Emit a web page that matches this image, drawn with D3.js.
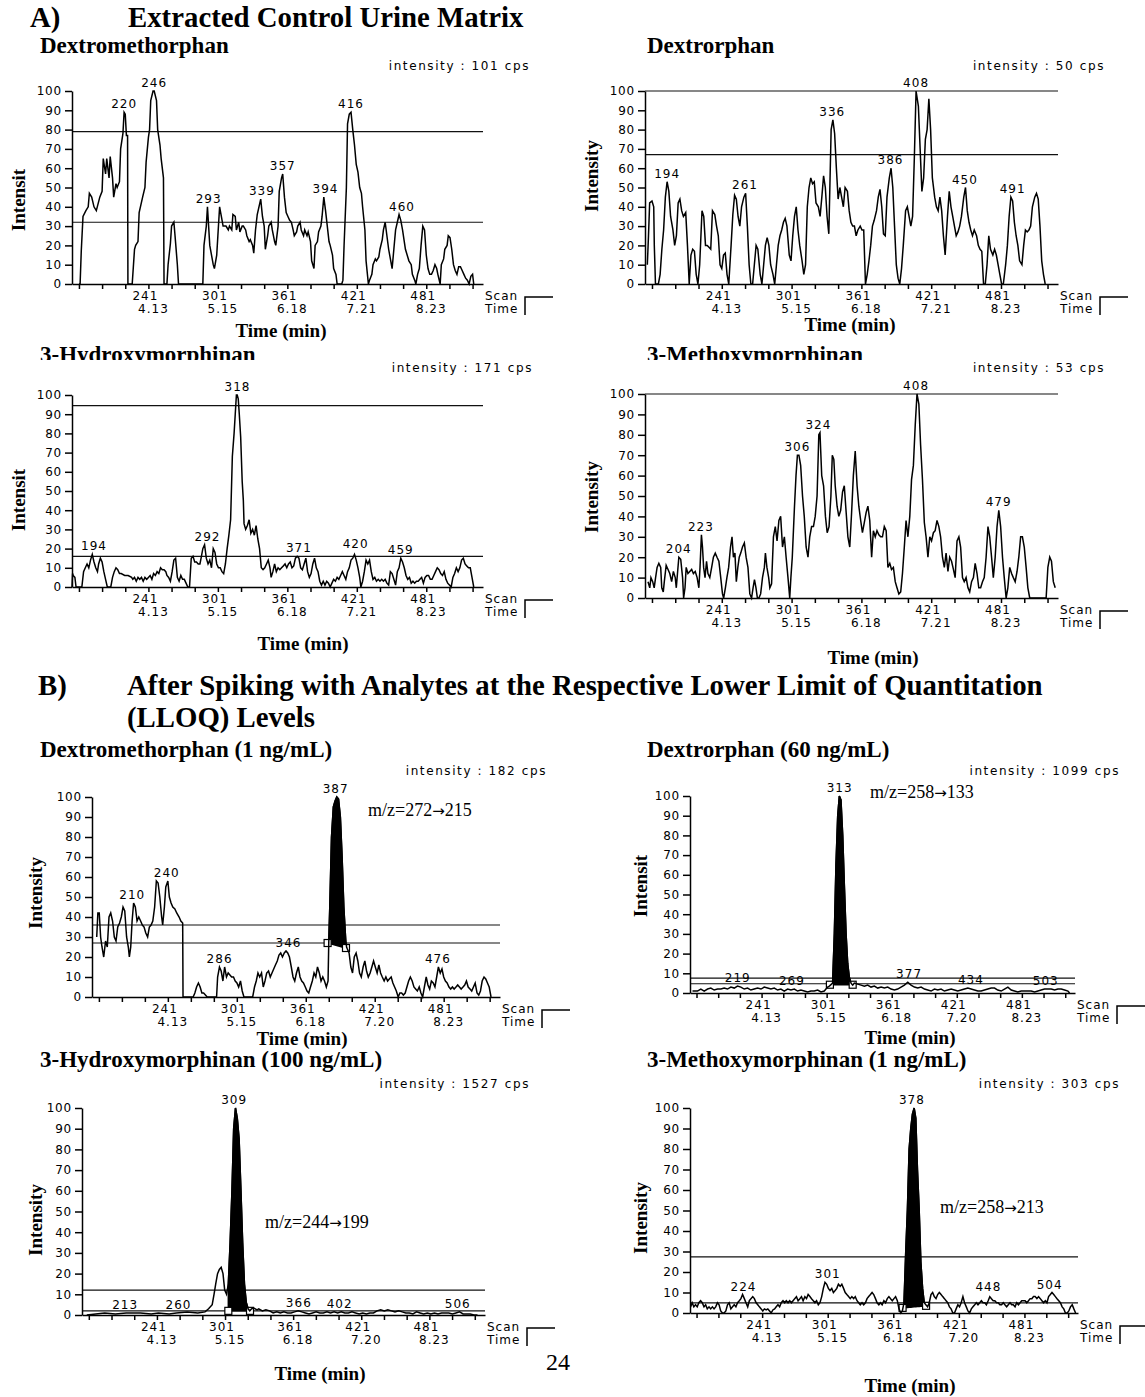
<!DOCTYPE html>
<html>
<head>
<meta charset="utf-8">
<script src="https://cdn.jsdelivr.net/npm/d3@7"></script>
<style>
  body { margin: 0; background: #fff; }
  .ser { font-family: "Liberation Serif", "Times New Roman", serif; font-weight: bold; fill: #000; }
  .reg { font-family: "Liberation Serif", "Times New Roman", serif; fill: #000; }
  .arrow { font-family: "DejaVu Sans", sans-serif; font-size: 15px; }
  .mac { font-family: "DejaVu Sans", sans-serif; font-size: 12px; letter-spacing: 1px; fill: #000; }
  .axis path, .axis line { stroke: #000; stroke-width: 1.5; }
  .axis text { font-family: "DejaVu Sans", sans-serif; font-size: 12px; letter-spacing: 0.8px; fill: #000; }
</style>
</head>
<body>
<svg id="fig" width="1145" height="1397"></svg>
<script>
// axis ticks / labels shared by every chromatogram
const scanTicks = [181, 201, 221, 241, 261, 281, 301, 321, 341, 361, 381, 401, 421, 441, 461, 481, 501, 521];
const scanLabels = [241, 301, 361, 421, 481];
const timeLabelsA = ["4.13", "5.15", "6.18", "7.21", "8.23"];
const timeLabelsB = ["4.13", "5.15", "6.18", "7.20", "8.23"];
const intensityTicks = [0, 10, 20, 30, 40, 50, 60, 70, 80, 90, 100];

// A) control urine - [scan, relative intensity %]
const dexCtl = [[181,0],[182,0],[183,17],[184.5,35],[187,38],[189,40],[190,47],[192,45],[194,40],[196,38],[199,45],[201,48],[202,65],[204,57],[205,65],[207,55],[208,66],[210,55],[211,45],[213,52],[214,50],[216,53],[217,70],[219,78],[220,89],[221,88],[222,77],[223,77],[223.3,0],[227,0],[229,18],[230,20],[232,22],[233,37],[236,45],[238,50],[239,63],[241,76],[242,80],[243,95],[245,100],[246,100],[248,95],[249,80],[251,72],[252,65],[254,55],[254.5,0],[257,0],[258,10],[260,21],[261,30],[263,32],[264,25],[266,10],[267,0],[288,0],[289,20],[291,30],[292,40],[294,20],[297,10],[298,8],[300,15],[301,25],[302.5,40],[304,35],[305.5,30],[308,30],[310,28],[311,30],[313,28],[314,36],[316,35],[317,28],[319,32],[320,27],[322,30],[323,30],[325,28],[326,25],[328,22],[329,23],[331,20],[332,16],[333.5,28],[335,36],[336.5,40],[338,44],[339.5,35],[341,30],[342,18],[344,25],[345,30],[347,32],[348,28],[350,22],[351,20],[353,30],[354,48],[356,55],[357,57],[358.5,45],[360,37],[361.5,35],[363,33],[364.5,32],[366,28],[367,25],[369,27],[370,30],[372,32],[373,28],[375,25],[376,28],[378,25],[379,27],[381,22],[382,12],[384,8],[385,20],[387,22],[388,27],[390,30],[391,35],[392.5,45],[394,38],[395.5,30],[397,22],[398,20],[400,15],[401,8],[403,5],[404,0],[408,0],[409,2],[410,20],[412,50],[413,83],[414.5,88],[416,89],[417.5,80],[419,72],[420.5,62],[422,58],[423.5,50],[425,47],[426,40],[428,28],[429,12],[431,0],[432,2],[434,5],[435,10],[437,13],[438,12],[440,14],[441,18],[443,23],[444,28],[445.5,32],[447,25],[448.5,18],[450,13],[451.5,8],[453,18],[454.5,28],[456,32],[457.5,36],[459,33],[460.5,28],[462,22],[463,18],[465,14],[466,12],[468,10],[469,5],[471,2],[472,0],[473.5,5],[475,8],[476.5,20],[478,30],[479.5,28],[481,15],[482.5,8],[484,5],[485.5,5],[487,7],[488.5,10],[490,8],[491,5],[493,0],[494,10],[496,13],[497,18],[499,20],[500,25],[501.5,24],[503,18],[504.5,10],[506,7],[507.5,5],[509,9],[510.5,9],[512,7],[513.5,5],[515,3],[516.5,2],[518,0],[519.5,4],[521,5],[522,0]];
const dexCtlPeaks = [[220,89],[246,100],[293,40],[339,44],[357,57],[394,45],[416,89],[460,36]];
const dexCtlLevels = [79, 32];

const dorCtl = [[177,10],[178,25],[179,42],[181,43],[182.5,40],[183,20],[184,0],[186.5,0],[188,5],[189.5,18],[191,28],[192.5,45],[194,53],[195.5,48],[197,35],[199,28],[200.5,20],[202,25],[203.5,42],[205,44],[206.5,38],[208,35],[210,37],[211.5,20],[213,0],[214.5,15],[216,18],[217.5,17],[219,5],[220.5,0],[222,10],[224,38],[225.5,35],[227,20],[228.5,20],[230,19],[231.5,18],[233,38],[235,36],[236.5,30],[238,25],[239.5,10],[241,8],[242.5,15],[244,16],[245.5,5],[247,0],[249,20],[250.5,36],[252,46],[253.5,44],[255,35],[256.5,30],[258,40],[260,45],[261.5,47],[263,30],[264.5,10],[266,0],[267.5,0],[269,10],[270.5,20],[272,18],[274,5],[275.5,0],[277,10],[278.5,20],[280,24],[281.5,20],[283,10],[285,5],[286.5,0],[288,10],[289.5,20],[291,25],[292.5,28],[294,32],[295.5,34],[297,30],[299,15],[300.5,12],[302,25],[303.5,35],[305,40],[306.5,28],[308,20],[310,12],[311.5,5],[313,10],[314.5,40],[316,50],[317.5,55],[319,52],[320.5,53],[322,42],[324,40],[325.5,35],[327,45],[328.5,56],[330,50],[331.5,35],[333,26],[335,80],[336.5,85],[338,78],[339.5,60],[341,44],[342.5,50],[344,45],[345.5,40],[347,50],[349,48],[350.5,38],[352,32],[353.5,30],[355,30],[356.5,25],[358,28],[360,30],[361.5,28],[363,28],[364.5,0],[366,5],[367.5,12],[369,20],[370.5,30],[372,33],[374,38],[375.5,45],[377,49],[378.5,40],[380,26],[381.5,25],[383,45],[385,55],[386.5,60],[388,50],[389.5,30],[391,10],[392.5,3],[394,0],[395.5,8],[397,20],[399,38],[400.5,40],[402,35],[403.5,30],[405,35],[406.5,65],[408,100],[410,92],[411.5,70],[413,48],[414.5,55],[416,75],[417.5,80],[419,96],[420.5,80],[422,55],[424,45],[425.5,40],[427,38],[428.5,45],[430,38],[431.5,25],[433,15],[435,35],[436.5,48],[438,40],[439.5,35],[441,30],[442.5,25],[444,27],[445.5,30],[447,35],[449,45],[450.5,50],[452,38],[453.5,32],[455,28],[456.5,25],[458,28],[460,25],[461.5,20],[463,18],[464.5,17],[466,0],[467.5,0],[469,10],[470.5,25],[472,18],[474,15],[475.5,18],[477,15],[478.5,10],[480,5],[481.5,0],[483,0],[485,10],[486.5,20],[488,35],[489.5,45],[491,43],[492.5,32],[494,25],[495.5,20],[497,12],[499,10],[500.5,20],[502,28],[503.5,27],[505,28],[506.5,30],[508,40],[510,45],[511.5,47],[513,44],[514.5,30],[516,12],[517.5,5],[519,0]];
const dorCtlPeaks = [[194,53],[261,47],[336,85],[386,60],[408,100],[450,50],[491,45]];
const dorCtlLevels = [100, 67];

const hymCtl = [[175,0],[175.5,7],[176,6],[177.5,5],[178.5,0],[180.5,0],[183.5,0],[185,8],[186.5,10],[188,12],[189.5,10],[191,14],[192.5,17],[194,13],[195.5,10],[197,8],[198,12],[199.5,15],[201,13],[202.5,8],[204,4],[205.5,0],[208.5,0],[210,5],[211.5,8],[213,10],[214.5,9],[216,7],[217.5,7],[220.5,6],[223.5,6],[226.5,5],[227.5,4],[229,5],[230.5,3],[232,5],[233.5,4],[235,5],[236.5,3],[238,5],[239.5,4],[241,5],[242.5,6],[244,4],[245.5,7],[247,6],[248.5,8],[250,7],[251.5,10],[253,9],[254.5,9],[256,8],[257,6],[258.5,5],[260,3],[261.5,8],[263,14],[264.5,15],[266,5],[267.5,3],[269,6],[270.5,4],[272,4],[273.5,2],[275,0],[276.5,0],[278,15],[279.5,16],[281,13],[282.5,13],[284,12],[285.5,12],[286.5,15],[288,20],[289.5,22],[291,15],[292.5,12],[294,14],[295.5,10],[297,20],[298.5,18],[300,12],[301.5,10],[303,10],[304.5,8],[306,7],[307.5,12],[309,20],[310.5,27],[312,35],[313.5,68],[315,80],[316,90],[317,100],[317.7,100],[318.6,98],[319.5,90],[320.7,78],[322,55],[323,45],[323.6,33],[325,30],[326.5,32],[328,35],[329.5,28],[331,30],[332.5,27],[334,32],[335.5,25],[337,20],[338.5,10],[340,9],[341.5,10],[343,12],[344.5,14],[346,10],[347,5],[348.5,8],[350,12],[351.5,8],[353,10],[354.5,9],[356,10],[357.5,11],[359,12],[360.5,10],[362,12],[363.5,13],[365,10],[366.5,11],[368,15],[369.5,16],[371,15],[372.5,10],[374,9],[375.5,12],[377,15],[378.5,8],[380,5],[381.5,7],[383,12],[384.5,15],[386,10],[387.5,8],[389,3],[390.5,1],[392,3],[393.5,1],[395,3],[396.5,2],[398,0],[399.5,2],[401,4],[402.5,3],[404,5],[405.5,4],[407,6],[408.5,8],[410,6],[411.5,4],[413,8],[414.5,10],[416,14],[417.5,15],[419,17],[420.5,14],[422,10],[423.5,5],[424.5,0],[426,3],[427.5,8],[429,14],[430.5,12],[432,14],[433.5,8],[435,4],[436.5,5],[438,3],[439.5,4],[441,3],[442.5,4],[444,3],[445.5,4],[447,2],[448.5,1],[450,8],[451.5,7],[453,4],[454.5,1],[456,8],[457.5,10],[459,15],[460.5,13],[462,10],[463.5,6],[465,4],[466.5,5],[468,2],[469.5,3],[471,2],[472.5,3],[474,3],[475.5,4],[477,5],[478.5,2],[480,5],[481.5,6],[483,6],[484.5,4],[486,4],[487.5,6],[489,8],[490.5,10],[492,9],[493.5,7],[495,6],[496.5,8],[498,4],[499.5,2],[501,1],[502.5,0],[504,5],[505.5,7],[507,10],[508.5,8],[510,10],[511.5,14],[513,15],[514.5,12],[516,11],[517.5,10],[519,10],[520.5,5],[522,0]];
const hymCtlPeaks = [[194,17],[292,22],[318,100],[371,16],[420,18],[459,15]];
const hymCtlLevels = [94.5, 16];

const memCtl = [[177.6,8],[179.1,5],[180.1,10],[181.6,8],[182.9,5],[184.1,10],[185.4,15],[186.9,17],[188.5,15],[189.4,5],[190.7,3],[191.6,8],[193.2,16],[194.8,14],[196.3,12],[197.9,8],[199.4,13],[201,10],[201.9,5],[203.2,14],[204.1,20],[205.7,19],[207.3,10],[208.2,0],[209.4,5],[210.4,15],[211.9,12],[213.5,13],[215.1,14],[216.6,12],[218.2,13],[219.8,10],[221.3,5],[222.3,15],[223.5,31],[224.4,25],[225.4,15],[226.6,10],[227.9,18],[229.1,12],[230.7,10],[232.3,15],[233.8,20],[235.4,22],[236.9,20],[238.5,18],[240.1,10],[241.6,2],[242.6,0],[244.1,5],[245.4,10],[246.9,15],[248.5,25],[249.8,30],[251,20],[252.3,22],[253.5,8],[254.8,15],[256,20],[257.3,22],[258.8,25],[260.4,27],[261.9,20],[263.5,15],[265.1,2],[266.6,0],[267.9,5],[269.1,9],[270.4,5],[271.6,0],[272.9,0],[274.4,2],[276,10],[277.6,15],[278.5,22],[279.8,15],[281.3,10],[282.3,5],[283.8,7],[285.4,30],[287,35],[288.5,28],[290.1,38],[291.6,40],[293.2,25],[294.8,30],[296.3,20],[297.9,10],[299.4,0],[300.4,10],[301.6,20],[303.5,45],[304.8,60],[306,70],[307.3,70],[308.8,65],[310.4,50],[311.9,40],[313.5,25],[315.1,20],[316.6,30],[318.2,35],[319.8,35],[321.3,40],[322.9,50],[324.4,80],[325.4,81],[326.9,60],[328.5,55],[330.1,40],[331.6,32],[333.2,35],[334.8,50],[336,70],[337.3,68],[338.5,55],[340.1,45],[341.6,40],[343.2,43],[344.8,52],[346.3,55],[347.9,42],[349.4,30],[351,25],[352.6,42],[354.1,60],[355.7,72],[357.3,55],[358.8,45],[360.4,38],[361.9,32],[363.5,37],[365.1,42],[366.6,45],[368.2,38],[369.8,20],[371.3,33],[372.9,30],[374.4,33],[376,31],[377.6,30],[379.1,30],[380.7,35],[382.3,33],[383.8,15],[385.4,17],[386.9,14],[388.5,15],[390.1,8],[391.6,5],[393.2,2],[394.8,3],[396.3,12],[397.9,25],[399.4,38],[401,30],[402.6,40],[404.1,58],[405.7,65],[407.3,85],[408.8,100],[410.4,95],[411.9,75],[413.5,58],[415.1,37],[416.6,30],[418.2,20],[419.8,30],[421.3,28],[422.9,32],[424.4,33],[426,38],[427.6,35],[429.1,30],[430.7,20],[432.3,15],[433.8,22],[435.4,13],[436.9,20],[438.5,18],[440.1,14],[441.6,10],[443.2,28],[444.8,30],[446.3,25],[447.9,10],[449.4,8],[451,10],[452.6,5],[454.1,3],[455.7,8],[457.3,10],[458.8,17],[460.4,12],[461.9,5],[463.5,5],[465.1,8],[466.6,10],[468.2,20],[469.8,35],[471.3,30],[472.9,20],[474.4,10],[476,20],[477.6,35],[479.1,43],[480.7,35],[482.3,20],[483.8,10],[485.4,0],[486.9,5],[488.5,15],[490.1,12],[491.6,10],[493.2,8],[494.8,13],[496.3,20],[497.9,30],[499.4,30],[501,25],[502.6,15],[504.1,5],[505.7,0],[507.3,0],[519.8,0],[521.3,15],[522.9,20],[524.4,18],[526,8],[527.6,5]];
const memCtlPeaks = [[204,20],[223,31],[306,70],[324,81],[408,100],[479,43]];
const memCtlLevels = [100];

// B) spiked at LLOQ
const dexLloq = [[179.1,30],[180.1,42],[181.3,42],[182.5,30],[183.7,25],[185.2,20],[186.8,28],[188.3,25],[189.8,40],[191.3,42],[192.9,38],[194.4,30],[195.9,28],[197.4,35],[199,37],[200.5,40],[202,45],[203.5,43],[205.1,30],[206.6,25],[207.5,20],[208.7,25],[209.9,38],[211.2,47],[212.7,45],[214.2,38],[215.7,40],[217.3,38],[218.8,36],[220.3,35],[221.8,32],[223.4,30],[224.9,35],[226.4,36],[227.9,38],[229.5,45],[231,58],[232.5,57],[234,50],[235.6,40],[236.5,36],[238,45],[239.2,55],[241,58],[242.3,50],[243.8,47],[245.3,45],[247.1,44],[248.7,42],[250.8,40],[252.3,38],[253.9,37],[254.2,0],[263,0],[264.5,2],[266,5],[267.6,7],[269.1,5],[270.6,2],[272.1,2],[273.7,1],[275.2,0],[283.4,0],[284.3,10],[285.9,15],[287.4,13],[288.9,8],[290.4,15],[292,10],[293.5,12],[295,11],[296.5,10],[298.1,10],[299.6,8],[301.1,7],[302.6,5],[304.2,8],[305.7,3],[307.2,0],[314.8,0],[316.4,5],[317.9,8],[319.4,12],[320.9,10],[322.5,12],[324,5],[325.5,8],[327,12],[328.6,13],[330.1,10],[331.6,12],[333.1,14],[334.6,16],[336.2,18],[337.7,21],[339.2,22],[340.7,20],[342.3,22],[343.8,23],[345.3,22],[346.8,20],[348.4,15],[349.9,10],[351.4,8],[352.9,12],[354.5,15],[356,10],[357.5,8],[359,7],[360.6,5],[362.1,3],[363.6,2],[365.1,5],[366.7,8],[368.2,12],[369.7,10],[371.2,15],[372.8,12],[374.3,8],[375.8,10],[377.3,8],[378.9,5],[380.4,8],[381,27],[381.9,45],[383.4,80],[385,95],[386.5,98],[388,100],[389.5,99],[391.1,90],[392.6,70],[394.1,45],[395.6,30],[396.5,25],[397.2,24],[398.7,22],[400.2,15],[401.7,12],[403.2,20],[404.8,22],[406.3,18],[407.8,12],[409.3,10],[410.9,15],[412.4,18],[413.9,13],[415.4,10],[417,12],[418.5,15],[420,18],[421.5,15],[423.1,12],[424.6,16],[426.1,12],[427.6,10],[429.2,8],[430.7,10],[432.2,8],[433.7,9],[435.3,10],[436.8,7],[438.3,5],[439.8,3],[441.4,0],[442.9,2],[444.4,2],[445.9,1],[447.5,2],[449,5],[450.5,8],[452,10],[453.6,8],[455.1,5],[456.6,4],[458.1,3],[459.7,5],[461.2,2],[462.7,0],[464.2,5],[465.8,10],[467.3,6],[468.8,4],[470.3,8],[471.9,7],[473.4,5],[474.9,10],[476.4,15],[478,12],[479.5,14],[481,10],[482.5,8],[484,7],[485.6,5],[487.1,4],[488.6,5],[490.1,4],[491.7,5],[493.2,6],[494.7,5],[496.2,4],[497.8,5],[499.3,6],[500.8,8],[502.3,5],[503.9,4],[505.4,3],[506.9,5],[508.4,7],[510,2],[511.5,1],[513,3],[514.5,8],[516.1,10],[517.6,9],[519.1,7],[520.6,5],[522.2,0]];
const dexLloqPeaks = [[210,47],[240,58],[286,15],[346,23],[387,100],[476,15]];
const dexLloqLevels = [36, 27];
const dexLloqBase = [[380,27],[396,24.5]];

const dorLloq = [[177.3,1],[181.9,1],[185,2],[188.1,1],[191.2,2],[194.2,2.5],[197.3,1.5],[200.4,2],[203.5,2],[206.5,2.5],[209.6,2],[212.7,3],[215.8,2.5],[218.8,3.5],[221.9,3],[225,2],[228.1,2.5],[231.1,1.5],[234.2,2],[237.3,2.5],[240.4,2],[243.5,3],[246.5,2.5],[249.6,2],[252.7,2.5],[255.8,1.5],[258.8,2],[261.9,1],[265,2],[268.1,1.5],[271.2,2],[274.2,1],[277.3,1.5],[280.4,1],[283.5,0.5],[286.5,1],[289.6,1],[292.7,1.5],[295.8,0.5],[298.8,1],[301.9,3],[303.5,3.5],[306.5,5],[308.1,30],[309.6,65],[311.2,90],[312.7,100],[314.2,98],[315.8,80],[317.3,55],[318.9,30],[320.4,15],[321.9,8],[323.5,5],[325,4],[326.5,5],[329.6,4.5],[332.7,4],[335.8,3.5],[338.8,4],[341.9,3],[345,3.5],[348.1,2.5],[351.2,3],[354.2,2.5],[357.3,3],[360.4,2],[363.5,1.5],[366.5,2],[369.6,3],[372.7,4],[375.8,5.5],[378.8,4],[381.9,3],[385,2.5],[388.1,3],[391.2,2],[394.2,1.5],[397.3,1],[400.4,2],[403.5,1.5],[406.5,2],[409.6,1],[412.7,1.5],[415.8,2],[418.8,1.5],[421.9,1],[425,1.5],[428.1,2],[431.2,2.5],[434.2,2],[437.3,1.5],[440.4,1],[443.5,1],[446.5,1.5],[449.6,2],[452.7,2.5],[455.8,2.5],[458.8,1.5],[461.9,1],[465,2],[468.1,3],[471.2,1.5],[474.2,1],[477.3,0.5],[480.4,1],[483.5,1],[486.5,1],[489.6,1],[492.7,0.5],[495.8,1],[498.8,1.5],[501.9,2],[505,2],[508.1,2],[511.2,1.5],[514.2,2],[517.3,2],[520.4,1.5],[523.5,1],[525,0]];
const dorLloqPeaks = [[219,3.5],[269,2],[313,100],[377,5.5],[434,2.5],[503,2]];
const dorLloqLevels = [7.6, 4.7];
const dorLloqBase = [[304,4.2],[325,4.2]];

const hymLloq = [[179.2,0],[195,1],[204.4,0.5],[213.9,1],[226.5,1],[236,0.5],[242.3,1],[251.8,0.5],[258.1,1],[267.6,1.5],[277,1],[283.4,1.5],[286.5,3],[289.7,5],[291.3,10],[292.8,15],[294.4,20],[296,22],[297.6,23],[299.2,20],[300.7,12],[302.3,10],[303.9,15],[305.5,35],[307.1,60],[308.6,90],[310.2,100],[311.8,95],[313.4,85],[315,60],[316.5,35],[318.1,15],[319.7,6],[321.3,3],[322.8,2],[324.4,3],[326,3.5],[327.6,3],[329.2,2.5],[330.7,3],[333.9,2],[337,2.5],[340.2,2],[343.4,1],[346.5,1.5],[349.7,1],[352.8,1.5],[356,1],[359.2,1],[362.3,1.5],[365.5,2],[368.6,1.5],[371.8,1],[375,0.5],[378.1,1],[381.3,1.5],[384.4,1],[387.6,1],[390.7,1.5],[393.9,1],[397.1,1.5],[400.2,1],[403.4,1.5],[406.5,1],[409.7,1],[412.8,1.5],[416,1],[419.2,0.5],[422.3,1],[425.5,0.5],[428.6,1],[431.8,1],[434.9,2],[438.1,2.5],[441.3,2],[444.4,2.5],[447.6,2],[450.7,1.5],[453.9,2],[457,1.5],[460.2,1],[463.4,1],[466.5,0.5],[469.7,1.5],[472.8,1],[476,0.5],[479.2,1],[482.3,0.5],[485.5,1],[488.6,0.5],[491.8,1],[494.9,1],[498.1,1],[501.3,0.5],[504.4,1],[507.6,1.5],[510.7,0.5],[513.9,0.5],[517,0.5],[520.2,0],[523.4,0]];
const hymLloqPeaks = [[213,1],[260,1],[309,100],[366,2],[402,1.5],[506,1.5]];
const hymLloqLevels = [12, 2];
const hymLloqBase = [[303.9,2],[323,2]];

const memLloq = [[175.5,3],[177,5],[178.5,3],[180.1,4],[181.6,3],[183.1,5],[184.7,6],[186.2,5],[187.8,3],[189.3,4],[190.8,2],[192.4,3],[193.9,2],[195.5,3],[197,2],[198.5,3],[200.1,5],[201.6,4],[203.1,1],[204.7,0],[206.2,0],[207.8,1],[209.3,4],[210.8,5],[212.4,2],[213.9,3],[215.5,4],[217,3],[218.5,5],[220.1,6],[221.6,7],[223.1,9],[224.7,7],[226.2,5],[227.8,3],[229.3,6],[230.8,7],[232.4,8],[233.9,7],[235.5,5],[237,4],[238.5,3],[240.1,2],[241.6,1],[243.1,2],[244.7,1.5],[246.2,2],[247.8,1],[249.3,0],[250.8,1.5],[252.4,2],[253.9,3],[255.5,4],[257,3],[258.5,5],[260.1,6],[261.6,5],[263.1,6],[264.7,5],[266.2,6],[267.8,5],[269.3,6],[270.8,7],[272.4,8],[273.9,6],[275.5,7],[277,8],[278.5,6],[280.1,8],[281.6,7],[283.1,9],[284.7,8],[286.2,7],[287.8,6],[289.3,5],[290.8,6],[292.4,4],[293.9,5],[295.5,8],[297,12],[298.5,15],[300.1,14],[301.6,12],[303.1,11],[304.7,12],[306.2,10],[307.8,11],[309.3,12],[310.8,14],[312.4,13],[313.9,14],[315.5,12],[317,10],[318.5,9],[320.1,8],[321.6,7],[323.1,8],[324.7,7],[326.2,8],[327.8,6],[329.3,5],[330.8,4],[332.4,5],[333.9,4],[335.5,5],[337,7],[338.5,8],[340.1,9],[341.6,10],[343.1,9],[344.7,7],[346.2,5],[347.8,4],[349.3,5],[350.8,4],[352.4,6],[353.9,5],[355.5,7],[357,8],[358.5,7],[360.1,6],[361.6,7],[363.1,8],[364.7,6],[366.2,2],[367.8,0],[369.3,1],[370.8,5],[372.4,30],[373.9,50],[375.5,80],[377,90],[378.5,97],[380.1,100],[381.6,95],[383.1,70],[384.7,50],[386.2,25],[387.8,12],[389.3,5],[390.8,4],[392.4,3],[393.9,5],[395.5,9],[397,10],[398.5,8],[400.1,7],[401.6,9],[403.1,10],[404.7,9],[406.2,8],[407.8,7],[409.3,6],[410.8,5],[412.4,3],[413.9,2],[415.5,0],[417,0],[418.5,2],[420.1,4],[421.6,3],[423.1,5],[424.7,8],[426.2,5],[427.8,3],[429.3,1],[430.8,0],[432.4,2],[433.9,3],[435.5,4],[437,5],[438.5,4],[440.1,5],[441.6,6],[443.1,5],[444.7,5],[446.2,4],[447.8,6],[449.3,8],[450.8,7],[452.4,6],[453.9,6],[455.5,5],[457,5],[458.5,4],[460.1,4],[461.6,5],[463.1,4],[464.7,3],[466.2,4],[467.8,5],[469.3,4],[470.8,4],[472.4,3],[473.9,5],[475.5,4],[477,5],[478.5,6],[480.1,6],[481.6,6],[483.1,5],[484.7,6],[486.2,7],[487.8,7],[489.3,8],[490.8,8],[492.4,7],[493.9,8],[495.5,7],[497,6],[498.5,5],[500.1,6],[501.6,5],[503.1,8],[504.7,9],[506.2,10],[507.8,9],[509.3,8],[510.8,7],[512.4,6],[513.9,5],[515.5,3],[517,2],[518.5,0],[520.1,0],[521.6,1],[523.1,3],[524.7,4],[526.2,2],[527.8,0]];
const memLloqPeaks = [[224,9],[301,15],[378,100],[448,9],[504,10]];
const memLloqLevels = [27.4, 4.9];
const memLloqBase = [[369.5,2.5],[391,3.5]];

const scanDomain = [175, 530];

const svg = d3.select("#fig");

// panel layout
const panels = [
  { sub: "Dextromethorphan", subAt: [40, 53], cps: "101", cpsAt: [530, 70], trace: dexCtl, peaks: dexCtlPeaks, levels: dexCtlLevels,
    times: timeLabelsA, box: { x0: 72, x1: 483, y100: 91, y0: 284 }, yTitle: "Intensit", yAt: [25, 200], xAt: [281, 337] },
  { sub: "Dextrorphan", subAt: [647, 53], cps: "50", cpsAt: [1105, 70], trace: dorCtl, peaks: dorCtlPeaks, levels: dorCtlLevels,
    times: timeLabelsA, box: { x0: 645, x1: 1058, y100: 91, y0: 284 }, yTitle: "Intensity", yAt: [598, 176], xAt: [850, 331] },
  { sub: "3-Hydroxymorphinan", subAt: [40, 362], clipTop: 360, cps: "171", cpsAt: [533, 372], trace: hymCtl, peaks: hymCtlPeaks, levels: hymCtlLevels,
    times: timeLabelsA, box: { x0: 72, x1: 483, y100: 395, y0: 587 }, yTitle: "Intensit", yAt: [25, 500], xAt: [303, 650] },
  { sub: "3-Methoxymorphinan", subAt: [647, 362], clipTop: 360, cps: "53", cpsAt: [1105, 372], trace: memCtl, peaks: memCtlPeaks, levels: memCtlLevels,
    times: timeLabelsA, box: { x0: 645, x1: 1058, y100: 394, y0: 598 }, yTitle: "Intensity", yAt: [598, 497], xAt: [873, 664] },
  { sub: "Dextromethorphan (1 ng/mL)", subAt: [40, 757], cps: "182", cpsAt: [547, 775], trace: dexLloq, peaks: dexLloqPeaks, levels: dexLloqLevels, base: dexLloqBase,
    times: timeLabelsB, box: { x0: 92, x1: 500, y100: 797, y0: 997 }, yTitle: "Intensity", yAt: [42, 893], xAt: [302, 1045],
    mz: ["m/z=272", "215"], mzAt: [368, 816] },
  { sub: "Dextrorphan (60 ng/mL)", subAt: [647, 757], cps: "1099", cpsAt: [1120, 775], trace: dorLloq, peaks: dorLloqPeaks, levels: dorLloqLevels, base: dorLloqBase,
    times: timeLabelsB, box: { x0: 690, x1: 1075, y100: 796, y0: 993 }, yTitle: "Intensit", yAt: [647, 886], xAt: [910, 1044],
    mz: ["m/z=258", "133"], mzAt: [870, 798] },
  { sub: "3-Hydroxymorphinan (100 ng/mL)", subAt: [40, 1067], cps: "1527", cpsAt: [530, 1088], trace: hymLloq, peaks: hymLloqPeaks, levels: hymLloqLevels, base: hymLloqBase,
    times: timeLabelsB, box: { x0: 82, x1: 485, y100: 1108, y0: 1315 }, yTitle: "Intensity", yAt: [42, 1220], xAt: [320, 1380],
    mz: ["m/z=244", "199"], mzAt: [265, 1228] },
  { sub: "3-Methoxymorphinan (1 ng/mL)", subAt: [647, 1067], cps: "303", cpsAt: [1120, 1088], trace: memLloq, peaks: memLloqPeaks, levels: memLloqLevels, base: memLloqBase,
    times: timeLabelsB, box: { x0: 690, x1: 1078, y100: 1108, y0: 1313 }, yTitle: "Intensity", yAt: [647, 1218], xAt: [910, 1392],
    mz: ["m/z=258", "213"], mzAt: [940, 1213] }
];

// section headings
svg.append("text").attr("class", "ser").attr("x", 30).attr("y", 27).style("font-size", "28.8px").text("A)");
svg.append("text").attr("class", "ser").attr("x", 128).attr("y", 27).style("font-size", "28.8px").text("Extracted Control Urine Matrix");
svg.append("text").attr("class", "ser").attr("x", 38).attr("y", 695).style("font-size", "28.8px").text("B)");
svg.append("text").attr("class", "ser").attr("x", 127).attr("y", 695).style("font-size", "28.8px")
  .text("After Spiking with Analytes at the Respective Lower Limit of Quantitation");
svg.append("text").attr("class", "ser").attr("x", 127).attr("y", 727).style("font-size", "28.8px").text("(LLOQ) Levels");
svg.append("text").attr("class", "reg").attr("x", 558).attr("y", 1370).attr("text-anchor", "middle").style("font-size", "24px").text("24");

function drawPanel(p) {
  const b = p.box;
  const g = svg.append("g");

  g.append("text").attr("class", "ser").attr("x", p.subAt[0]).attr("y", p.subAt[1]).style("font-size", "23px").text(p.sub);
  if (p.clipTop) {
    g.append("rect").attr("x", b.x0 - 75).attr("y", p.clipTop).attr("width", b.x1 - b.x0 + 150).attr("height", 12).attr("fill", "#fff");
  }

  const x = d3.scaleLinear().domain(scanDomain).range([b.x0, b.x1]);
  const y = d3.scaleLinear().domain([0, 100]).range([b.y0, b.y100]);

  g.append("text").attr("class", "mac").attr("x", p.cpsAt[0]).attr("y", p.cpsAt[1])
    .attr("text-anchor", "end").style("letter-spacing", "1.6px").text("intensity : " + p.cps + " cps");

  // threshold lines
  g.selectAll(".lvl").data(p.levels).enter().append("line")
    .attr("x1", b.x0).attr("x2", b.x1)
    .attr("y1", d => y(d)).attr("y2", d => y(d))
    .attr("stroke", "#111").attr("stroke-width", 1.2);

  // integrated peak
  if (p.base) {
    const [s0, v0] = p.base[0], [s1, v1] = p.base[1];
    const baseAt = s => v0 + (v1 - v0) * (s - s0) / (s1 - s0);
    const seg = p.trace.filter(d => d[0] >= s0 && d[0] <= s1);
    g.append("path").datum(seg)
      .attr("d", d3.area().x(d => x(d[0])).y0(d => y(baseAt(d[0]))).y1(d => y(Math.max(d[1], baseAt(d[0])))))
      .attr("fill", "#000").attr("stroke", "#000").attr("stroke-width", 1.5);
    g.selectAll(".mk").data(p.base).enter().append("rect")
      .attr("x", d => x(d[0]) - 3.5).attr("y", d => y(d[1]) - 3.5)
      .attr("width", 7).attr("height", 7)
      .attr("fill", "#fff").attr("stroke", "#000").attr("stroke-width", 1.2);
  }

  // trace
  g.append("path").datum(p.trace)
    .attr("d", d3.line().x(d => x(d[0])).y(d => y(d[1])))
    .attr("fill", "none").attr("stroke", "#000").attr("stroke-width", 1.5).attr("stroke-linejoin", "miter");

  // axes
  g.append("g").attr("class", "axis").attr("transform", `translate(${b.x0},0)`)
    .call(d3.axisLeft(y).tickValues(intensityTicks).tickSize(7).tickSizeOuter(0).tickPadding(3));
  g.append("g").attr("class", "axis").attr("transform", `translate(0,${b.y0})`)
    .call(d3.axisBottom(x).tickValues(scanTicks).tickSize(5).tickSizeOuter(0).tickFormat(""));

  // scan / time labels
  g.selectAll(".sl").data(scanLabels).enter().append("text").attr("class", "mac")
    .attr("x", d => x(d) - 3).attr("y", b.y0 + 16).attr("text-anchor", "middle").text(d => d);
  g.selectAll(".tl").data(p.times).enter().append("text").attr("class", "mac")
    .attr("x", (d, i) => x(scanLabels[i]) + 5).attr("y", b.y0 + 29).attr("text-anchor", "middle").text(d => d);
  g.append("text").attr("class", "mac").attr("x", b.x1 + 2).attr("y", b.y0 + 16).text("Scan");
  g.append("text").attr("class", "mac").attr("x", b.x1 + 2).attr("y", b.y0 + 29).text("Time");
  g.append("path").attr("d", `M${b.x1 + 42},${b.y0 + 31}V${b.y0 + 13}H${b.x1 + 70}`)
    .attr("fill", "none").attr("stroke", "#000").attr("stroke-width", 1.5);

  // peak labels
  g.selectAll(".pk").data(p.peaks).enter().append("text").attr("class", "mac")
    .attr("x", d => x(d[0])).attr("y", d => y(d[1]) - 4).attr("text-anchor", "middle").text(d => d[0]);

  // axis titles
  g.append("text").attr("class", "ser").style("font-size", "19px")
    .attr("transform", `translate(${p.yAt[0]},${p.yAt[1]}) rotate(-90)`).attr("text-anchor", "middle").text(p.yTitle);
  g.append("text").attr("class", "ser").style("font-size", "19px")
    .attr("x", p.xAt[0]).attr("y", p.xAt[1]).attr("text-anchor", "middle").text("Time (min)");

  if (p.mz) {
    const t = g.append("text").attr("class", "reg").style("font-size", "18px")
      .attr("x", p.mzAt[0]).attr("y", p.mzAt[1]);
    t.append("tspan").text(p.mz[0]);
    t.append("tspan").attr("class", "arrow").text("\u2192");
    t.append("tspan").text(p.mz[1]);
  }
}

panels.forEach(drawPanel);
</script>
</body>
</html>
